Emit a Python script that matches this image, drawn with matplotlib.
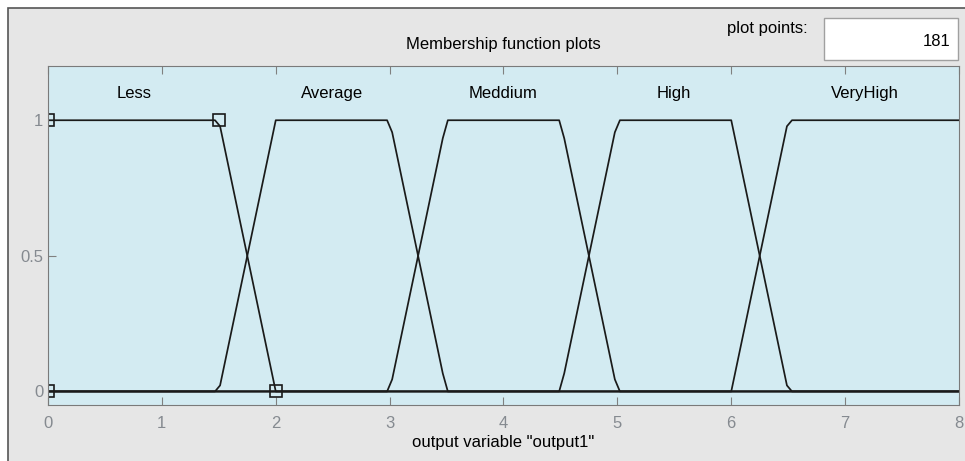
import numpy as np
import matplotlib
matplotlib.use("Agg")
import matplotlib.pyplot as plt
from matplotlib.patches import Rectangle

plt.rcParams['font.family'] = ['Liberation Sans', 'DejaVu Sans']

# membership functions of output1 (trapmf params a, b, c, d)
mf_names = ['Less', 'Average', 'Meddium', 'High', 'VeryHigh']
mf_params = [
    [0.0, 0.0, 1.5, 2.0],
    [1.5, 2.0, 3.0, 3.5],
    [3.0, 3.5, 4.5, 5.0],
    [4.5, 5.0, 6.0, 6.5],
    [6.0, 6.5, 8.0, 8.0],
]
label_x = [0.76, 2.49, 4.0, 5.5, 7.17]
n_points = 181
x_range = [0, 8]


def trapmf(x, p):
    a, b, c, d = p
    up = np.ones_like(x) if b == a else (x - a) / (b - a)
    down = np.ones_like(x) if d == c else (d - x) / (d - c)
    y = np.clip(np.minimum(up, down), 0.0, 1.0)
    y[x < a] = 0
    y[x > d] = 0
    return y


W, H = 965, 461
fig = plt.figure(figsize=(W / 100, H / 100), dpi=100, facecolor='white')

# gray panel
fig.patches.append(Rectangle((8 / W, -0.05), 1.1, (H - 8) / H + 0.05, transform=fig.transFigure,
                             facecolor='#e6e6e6', edgecolor='#555555', lw=1.2, zorder=-2))
# plot points box
fig.patches.append(Rectangle((824 / W, (H - 60) / H), 134 / W, 42 / H, transform=fig.transFigure,
                             facecolor='white', edgecolor='#a0a0a0', lw=1, zorder=-1))
fig.text(950 / W, (H - 42) / H, str(n_points), ha='right', va='center', fontsize=12)
fig.text(808 / W, (H - 28) / H, 'plot points:', ha='right', va='center', fontsize=12)

ax = fig.add_axes([48 / W, (H - 405) / H, (959 - 48) / W, (405 - 66) / H])
ax.set_facecolor('#d3ebf2')

x = np.linspace(x_range[0], x_range[1], n_points)
for name, p, lx in zip(mf_names, mf_params, label_x):
    ax.plot(x, trapmf(x, p), color='#1a1a1a', lw=1.25)
    ax.text(lx, 1.1, name, ha='center', va='center', fontsize=12)

# markers for the selected MF (Less)
sel = mf_params[0]
ax.plot([sel[0], sel[1], sel[2], sel[3]], [0, 1, 1, 0], ls='none', marker='s', ms=9,
        mfc='none', mec='#1a1a1a', mew=1.2)

ax.set_xlim(x_range)
ax.set_ylim(-0.05, 1.2)
ax.set_xticks(range(0, 9))
ax.set_yticks([0, 0.5, 1])
ax.set_yticklabels(['0', '0.5', '1'])
ax.tick_params(direction='in', colors='#808080', labelcolor='#858a90', labelsize=12,
               top=True, right=False, length=6)
ax.tick_params(axis='x', pad=8)
for s in ax.spines.values():
    s.set_color('#7a7a7a')

ax.set_title('Membership function plots', fontsize=12, pad=12)
ax.set_xlabel('output variable "output1"', fontsize=12, labelpad=3)

fig.savefig('out.png', dpi=100, facecolor='white')
